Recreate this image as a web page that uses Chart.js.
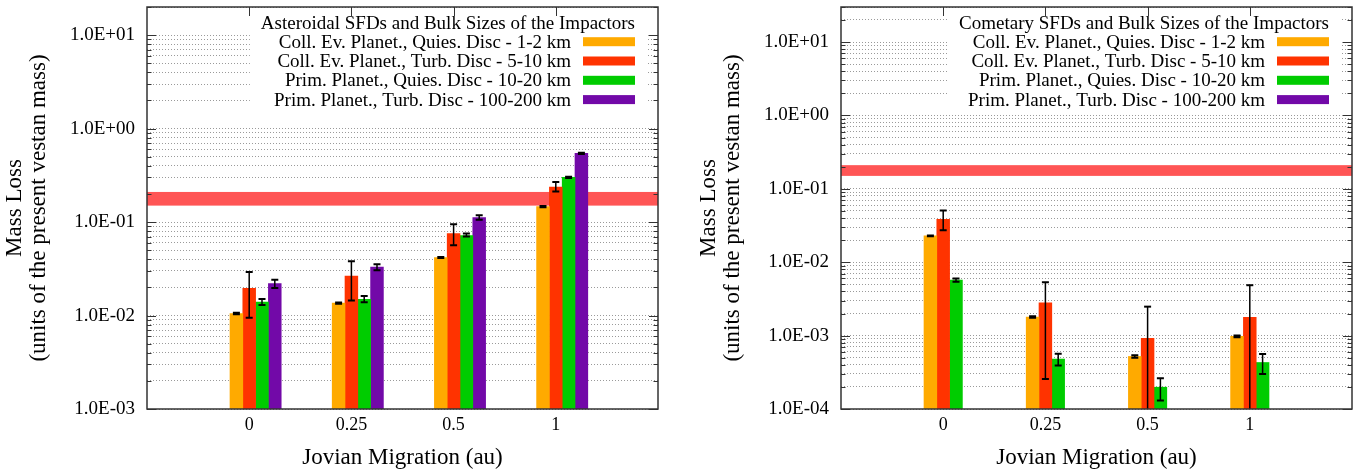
<!DOCTYPE html>
<html>
<head>
<meta charset="utf-8">
<script src="https://cdn.jsdelivr.net/npm/chart.js@4.4.1/dist/chart.umd.min.js"></script>
<style>
  html, body { margin: 0; padding: 0; background: #fff; }
  body { width: 1371px; height: 473px; position: relative; overflow: hidden; }
  .panel { position: absolute; top: 0; }
</style>
</head>
<body>
<div class="panel" style="left:0"><canvas id="ast" width="694" height="473"></canvas></div>
<div class="panel" style="left:694px"><canvas id="com" width="677" height="473"></canvas></div>
<script>
// categories (Jovian migration, au)
const categories = ['0', '0.25', '0.5', '1'];
const axisLabels = [' ', ...categories, '  '];

const seriesLabels = [
  'Coll. Ev. Planet., Quies. Disc - 1-2 km',
  'Coll. Ev. Planet., Turb. Disc - 5-10 km',
  'Prim. Planet., Quies. Disc - 10-20 km',
  'Prim. Planet., Turb. Disc - 100-200 km'
];
const seriesColors = ['#ffaa00', '#ff3300', '#00cc00', '#7209a8'];

// asteroidal SFDs
const astQuies12 = [0.0105, 0.0136, 0.0418, 0.1465];
const astQuies12Lo = [0.0103, 0.0134, 0.0412, 0.1445];
const astQuies12Hi = [0.0107, 0.0138, 0.0424, 0.1485];
const astTurb510 = [0.0195, 0.0264, 0.0754, 0.237];
const astTurb510Lo = [0.00944, 0.0145, 0.0565, 0.212];
const astTurb510Hi = [0.0293, 0.0381, 0.0947, 0.268];
const astQuies1020 = [0.0139, 0.0149, 0.0718, 0.301];
const astQuies1020Lo = [0.0130, 0.0139, 0.0700, 0.296];
const astQuies1020Hi = [0.0150, 0.0162, 0.0756, 0.306];
const astTurb100200 = [0.0220, 0.0329, 0.1117, 0.543];
const astTurb100200Lo = [0.0197, 0.0305, 0.106, 0.535];
const astTurb100200Hi = [0.0241, 0.0354, 0.118, 0.551];

// cometary SFDs
const comQuies12 = [0.0228, 0.00179, 0.00052, 0.000975];
const comQuies12Lo = [0.0225, 0.00175, 0.00050, 0.00095];
const comQuies12Hi = [0.0231, 0.00183, 0.00054, 0.00100];
const comTurb510 = [0.0385, 0.00279, 0.000916, 0.00177];
const comTurb510Lo = [0.0272, 0.000257, 0.00005, 0.00005];
const comTurb510Hi = [0.0506, 0.00535, 0.00248, 0.00486];
const comQuies1020 = [0.00569, 0.000479, 0.000198, 0.00043];
const comQuies1020Lo = [0.0054, 0.000391, 0.000131, 0.000301];
const comQuies1020Hi = [0.0060, 0.000565, 0.000263, 0.00056];
const comTurb100200 = [null, null, null, null];

// vesta mass-loss band
const bandLow = 0.15;
const bandHigh = 0.21;

// y tick labels
const astTickValues = [1e-3, 1e-2, 1e-1, 1, 10];
const astTickLabels = ['1.0E-03', '1.0E-02', '1.0E-01', '1.0E+00', '1.0E+01'];
const comTickValues = [1e-4, 1e-3, 1e-2, 1e-1, 1, 10];
const comTickLabels = ['1.0E-04', '1.0E-03', '1.0E-02', '1.0E-01', '1.0E+00', '1.0E+01'];
const minorSteps = [1, 2, 3, 4, 5, 6, 7, 8, 9];

const FONT = "'Liberation Serif', 'Times New Roman', serif";
Chart.defaults.font.family = FONT;
Chart.defaults.color = '#000';

function gridTicks(majors, max) {
  const out = [];
  majors.forEach(m => minorSteps.forEach(s => {
    const v = +(m * s).toPrecision(3);
    if (v <= max * 1.0001) out.push(v);
  }));
  return out;
}

function pts(vals) {
  return vals.map((v, i) => ({ x: categories[i], y: v }));
}

const deco = {
  id: 'deco',
  beforeDatasetsDraw(chart, args, opts) {
    const { ctx, chartArea: a, scales: { x, y } } = chart;
    ctx.save();
    // red band
    const t = y.getPixelForValue(bandHigh), b = y.getPixelForValue(bandLow);
    ctx.fillStyle = '#ff5555';
    ctx.fillRect(a.left, t, a.right - a.left, b - t);
    // inward ticks
    ctx.strokeStyle = '#333';
    ctx.lineWidth = 1;
    ctx.beginPath();
    y.ticks.forEach(tk => {
      const py = Math.round(y.getPixelForValue(tk.value)) + 0.5;
      const len = opts.majors.some(m => Math.abs(m - tk.value) / m < 1e-6) ? 9 : 4.5;
      ctx.moveTo(a.left, py); ctx.lineTo(a.left + len, py);
      ctx.moveTo(a.right, py); ctx.lineTo(a.right - len, py);
    });
    categories.forEach(c => {
      const px = Math.round(x.getPixelForValue(axisLabels.indexOf(c))) + 0.5;
      ctx.moveTo(px, a.top); ctx.lineTo(px, a.top + 9);
      ctx.moveTo(px, a.bottom); ctx.lineTo(px, a.bottom - 9);
    });
    ctx.stroke();
    ctx.restore();
  },
  afterDatasetsDraw(chart, args, opts) {
    const { ctx, chartArea: a, scales: { y } } = chart;
    ctx.save();
    ctx.strokeStyle = '#000';
    opts.err.forEach((e, di) => {
      if (!e) return;
      const meta = chart.getDatasetMeta(di);
      meta.data.forEach((el, j) => {
        if (e[0][j] == null) return;
        const px = el.x;
        let yl = y.getPixelForValue(e[0][j]);
        let yh = y.getPixelForValue(e[1][j]);
        const capL = yl <= a.bottom, capH = yh >= a.top;
        yl = Math.min(yl, a.bottom); yh = Math.max(yh, a.top);
        ctx.lineWidth = 1.5;
        ctx.beginPath();
        ctx.moveTo(px, yl); ctx.lineTo(px, yh);
        ctx.stroke();
        ctx.lineWidth = 2;
        ctx.beginPath();
        if (capL) { ctx.moveTo(px - 3.5, yl); ctx.lineTo(px + 3.5, yl); }
        if (capH) { ctx.moveTo(px - 3.5, yh); ctx.lineTo(px + 3.5, yh); }
        ctx.stroke();
      });
    });
    ctx.restore();
  },
  afterDraw(chart, args, opts) {
    const { ctx, chartArea: a } = chart;
    ctx.save();
    // frame
    ctx.strokeStyle = '#333';
    ctx.lineWidth = 1.5;
    ctx.strokeRect(a.left, a.top, a.right - a.left, a.bottom - a.top);
    // legend
    ctx.font = '19px ' + FONT;
    const titleW = ctx.measureText(opts.title).width;
    const boxR = a.right - 12;
    const boxW = titleW + 22;
    ctx.fillStyle = '#fff';
    ctx.fillRect(boxR - boxW, a.top + 9, boxW, 96);
    ctx.fillStyle = '#000';
    ctx.textBaseline = 'middle';
    ctx.textAlign = 'center';
    ctx.fillText(opts.title, boxR - boxW / 2, a.top + 17);
    ctx.textAlign = 'right';
    seriesLabels.forEach((lab, i) => {
      const cy = a.top + 34.7 + i * 19.3;
      const sr = boxR - 11;
      ctx.fillStyle = seriesColors[i];
      ctx.fillRect(sr - 52, cy - 4.5, 52, 9);
      ctx.fillStyle = '#000';
      ctx.fillText(lab, sr - 64, cy + 1);
    });
    ctx.restore();
  }
};

function makeChart(id, datasets, yMin, yMax, majors, labels, padRight, title, err) {
  const ticksList = gridTicks(majors, yMax);
  return new Chart(document.getElementById(id), {
    type: 'bar',
    data: { labels: axisLabels, datasets },
    options: {
      responsive: false,
      animation: false,
      devicePixelRatio: 1,
      layout: { padding: { top: 7, right: padRight, left: 0, bottom: 0 } },
      datasets: { bar: { barThickness: 12.8, borderWidth: 0 } },
      plugins: {
        legend: { display: false },
        tooltip: { enabled: false },
        deco: { majors, title, err }
      },
      scales: {
        x: {
          type: 'category',
          offset: false,
          grid: { display: false },
          border: { display: false },
          ticks: { font: { size: 18 }, padding: -3, maxRotation: 0, autoSkip: false },
          title: { display: true, text: 'Jovian Migration (au)', font: { size: 23, lineHeight: 1.05 }, padding: { top: 0, bottom: 2.5 } },
          afterFit(s) { s.height = 64; s.paddingLeft = 0; s.paddingRight = 0; }
        },
        y: {
          type: 'logarithmic',
          min: yMin,
          max: yMax,
          grid: { color: '#9a9a9a', lineWidth: 1, drawTicks: false },
          border: { display: false, dash: [1, 2] },
          afterBuildTicks(s) { s.ticks = ticksList.map(v => ({ value: v })); },
          ticks: {
            font: { size: 19 },
            padding: 12,
            autoSkip: false,
            callback(v) {
              const k = majors.findIndex(m => Math.abs(m - v) / m < 1e-6);
              return k >= 0 ? labels[k] : '';
            }
          },
          title: { display: true, text: ['Mass Loss', '(units of the present vestan mass)'], font: { size: 23, lineHeight: 1.02 }, padding: { top: 3.5, bottom: 0 } },
          afterFit(s) { s.width = 147; s.paddingTop = 0; s.paddingBottom = 0; }
        }
      }
    },
    plugins: [deco]
  });
}

// left: asteroidal (empty first slot keeps the 2nd series on the tick)
makeChart('ast', [
  { label: 'pad', data: pts([null, null, null, null]), backgroundColor: 'rgba(0,0,0,0)' },
  { label: seriesLabels[0], data: pts(astQuies12), backgroundColor: seriesColors[0] },
  { label: seriesLabels[1], data: pts(astTurb510), backgroundColor: seriesColors[1] },
  { label: seriesLabels[2], data: pts(astQuies1020), backgroundColor: seriesColors[2] },
  { label: seriesLabels[3], data: pts(astTurb100200), backgroundColor: seriesColors[3] }
], 0.001, 20, astTickValues, astTickLabels, 36,
  'Asteroidal SFDs and Bulk Sizes of the Impactors',
  [null, [astQuies12Lo, astQuies12Hi], [astTurb510Lo, astTurb510Hi], [astQuies1020Lo, astQuies1020Hi], [astTurb100200Lo, astTurb100200Hi]]);

// right: cometary
makeChart('com', [
  { label: seriesLabels[0], data: pts(comQuies12), backgroundColor: seriesColors[0] },
  { label: seriesLabels[1], data: pts(comTurb510), backgroundColor: seriesColors[1] },
  { label: seriesLabels[2], data: pts(comQuies1020), backgroundColor: seriesColors[2] },
  { label: seriesLabels[3], data: pts(comTurb100200), backgroundColor: seriesColors[3], hidden: true }
], 0.0001, 30, comTickValues, comTickLabels, 19,
  'Cometary SFDs and Bulk Sizes of the Impactors',
  [[comQuies12Lo, comQuies12Hi], [comTurb510Lo, comTurb510Hi], [comQuies1020Lo, comQuies1020Hi], null]);
</script>
</body>
</html>
